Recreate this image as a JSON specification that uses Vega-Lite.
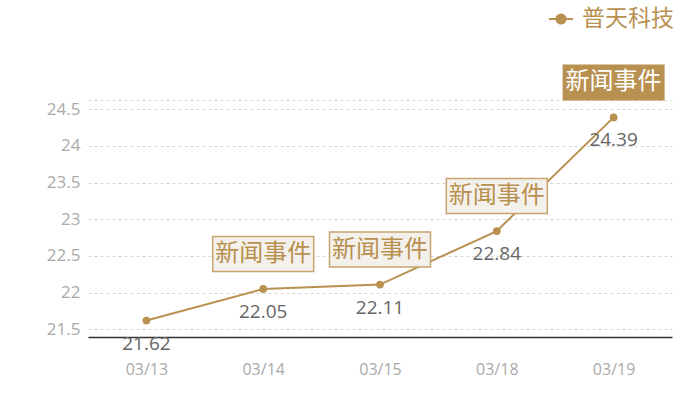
{
  "$schema": "https://vega.github.io/schema/vega-lite/v6.json",
  "width": 584,
  "height": 237,
  "autosize": {"type": "none"},
  "padding": {"left": 88, "top": 100, "right": 28, "bottom": 63},
  "background": "white",
  "config": {
    "font": "Open Sans",
    "view": {"stroke": null}
  },
  "data": {
    "values": [
      {"date": "03/13", "price": 21.62, "event": null},
      {"date": "03/14", "price": 22.05, "event": "新闻事件"},
      {"date": "03/15", "price": 22.11, "event": "新闻事件"},
      {"date": "03/18", "price": 22.84, "event": "新闻事件"},
      {"date": "03/19", "price": 24.39, "event": "新闻事件"}
    ]
  },
  "encoding": {
    "x": {
      "field": "date",
      "type": "ordinal",
      "scale": {"type": "point", "padding": 0.5},
      "axis": {
        "title": null,
        "labelAngle": 0,
        "labelColor": "#aaaaaa",
        "labelFont": "Open Sans",
        "labelFontSize": 16,
        "labelPadding": 24,
        "ticks": false,
        "grid": false,
        "domainColor": "#333333",
        "domainWidth": 1.5
      }
    },
    "y": {
      "field": "price",
      "type": "quantitative",
      "scale": {"domain": [21.395, 24.627], "nice": false, "zero": false},
      "axis": {
        "title": null,
        "values": [21.5, 22, 22.5, 23, 23.5, 24, 24.5, 24.627],
        "format": "~g",
        "labelExpr": "datum.value > 24.6 ? '' : datum.label",
        "labelColor": "#aaaaaa",
        "labelFont": "Open Sans",
        "labelFontSize": 17,
        "labelPadding": 8,
        "ticks": false,
        "domain": false,
        "gridColor": "#d6d6d6",
        "gridDash": [3, 3],
        "gridWidth": 1
      }
    }
  },
  "layer": [
    {
      "mark": {"type": "line", "strokeWidth": 2, "point": {"filled": true, "size": 60}},
      "encoding": {
        "color": {
          "datum": "普天科技",
          "scale": {"range": ["#b8904f"]},
          "legend": {
            "title": null,
            "orient": "none",
            "legendX": 460,
            "legendY": -94,
            "labelFont": "Noto Sans CJK SC",
            "labelFontSize": 23,
            "labelColor": "#b8904f",
            "labelOffset": 8,
            "symbolType": "M-1,0H1M-0.38,0A0.38,0.38 0 1,1 0.38,0A0.38,0.38 0 1,1 -0.38,0Z",
            "symbolSize": 576,
            "symbolFillColor": "#b8904f",
            "symbolStrokeColor": "#b8904f",
            "symbolStrokeWidth": 2
          }
        }
      }
    },
    {
      "mark": {"type": "text", "dy": 23, "font": "Open Sans", "fontSize": 19, "color": "#666666", "baseline": "middle"},
      "encoding": {"text": {"field": "price", "type": "quantitative", "format": ".2f"}}
    },
    {
      "transform": [{"filter": "datum.event != null && datum.date != '03/19'"}],
      "mark": {"type": "rect", "width": 101, "height": 35, "yOffset": -35, "fill": "#f4f1ec", "stroke": "#c8a56f", "strokeWidth": 1.5}
    },
    {
      "transform": [{"filter": "datum.date == '03/19'"}],
      "mark": {"type": "rect", "width": 102, "height": 36, "yOffset": -35, "fill": "#b8904f"}
    },
    {
      "transform": [{"filter": "datum.event != null && datum.date != '03/19'"}],
      "mark": {"type": "text", "dy": -35, "font": "Noto Sans CJK SC", "fontSize": 24, "color": "#b8904f", "baseline": "middle"},
      "encoding": {"text": {"field": "event"}}
    },
    {
      "transform": [{"filter": "datum.date == '03/19'"}],
      "mark": {"type": "text", "dy": -35, "font": "Noto Sans CJK SC", "fontSize": 24, "color": "#ffffff", "baseline": "middle"},
      "encoding": {"text": {"field": "event"}}
    }
  ]
}
